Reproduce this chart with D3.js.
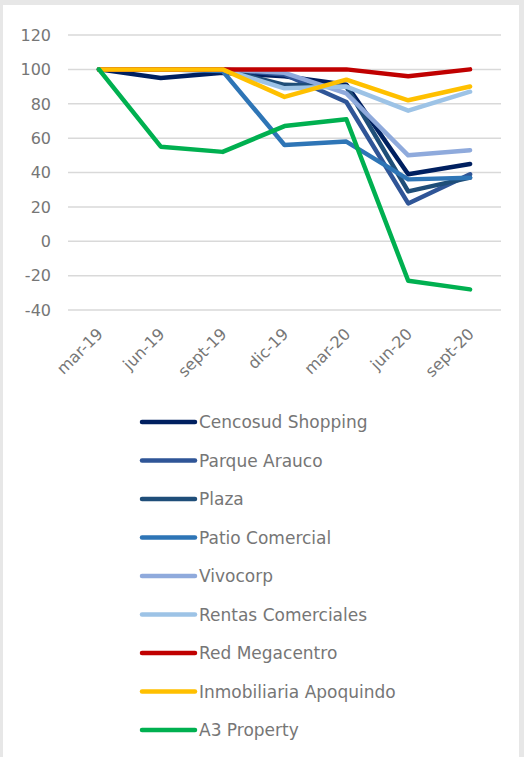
<!DOCTYPE html>
<html>
<head>
<meta charset="utf-8">
<script src="https://cdn.jsdelivr.net/npm/d3@7"></script>
<style>
	body { margin: 0; background: #e7e7e7; }
	#chart { position: absolute; left: 3px; top: 5px; width: 516px; height: 752px; background: white; }
	text { font-family: "DejaVu Sans", Verdana, sans-serif; fill: #767676; }
</style>
</head>
<body>
<div id="chart"></div>
<script>
// Categories (quarters)
const quarters = ["mar-19", "jun-19", "sept-19", "dic-19", "mar-20", "jun-20", "sept-20"];
const yTicks = [-40, -20, 0, 20, 40, 60, 80, 100, 120];

// Series values
const cencosud = [100, 95, 98, 96, 91, 39, 45];
const parqueArauco = [100, 100, 100, 97, 81, 22, 39];
const plaza = [100, 100, 100, 91, 90, 29, 37];
const patioComercial = [100, 100, 99, 56, 58, 36, 37];
const vivocorp = [100, 100, 100, 98, 86, 50, 53];
const rentasComerciales = [100, 100, 100, 89, 90, 76, 87];
const redMegacentro = [100, 100, 100, 100, 100, 96, 100];
const inmobiliariaApoquindo = [100, 100, 100, 84, 94, 82, 90];
const a3Property = [100, 55, 52, 67, 71, -23, -28];

const seriesNames = ["Cencosud Shopping", "Parque Arauco", "Plaza", "Patio Comercial", "Vivocorp",
	"Rentas Comerciales", "Red Megacentro", "Inmobiliaria Apoquindo", "A3 Property"];
const seriesValues = [cencosud, parqueArauco, plaza, patioComercial, vivocorp,
	rentasComerciales, redMegacentro, inmobiliariaApoquindo, a3Property];
const seriesColors = ["#002060", "#2F5597", "#1F4E79", "#2E75B6", "#8FAADC",
	"#9DC3E6", "#C00000", "#FFC000", "#00B050"];

const series = seriesNames.map((name, i) => ({ name: name, values: seriesValues[i], color: seriesColors[i] }));

const svg = d3.select("#chart")
	.append("svg")
	.attr("width", 516)
	.attr("height", 752)
	.append("g")
	.attr("transform", "translate(-3,-5)");  // work in page coordinates

const x = d3.scalePoint()
	.domain(quarters)
	.range([68, 501])
	.padding(0.5);

const y = d3.scaleLinear()
	.domain([-40, 120])
	.range([310, 35]);

// gridlines
svg.selectAll("line.grid")
	.data(yTicks)
	.enter()
	.append("line")
	.attr("class", "grid")
	.attr("x1", 68)
	.attr("x2", 501)
	.attr("y1", d => y(d))
	.attr("y2", d => y(d))
	.attr("stroke", "#d9d9d9")
	.attr("stroke-width", 1.5);

// y tick labels
svg.selectAll("text.ytick")
	.data(yTicks)
	.enter()
	.append("text")
	.attr("class", "ytick")
	.attr("x", 51)
	.attr("y", d => y(d))
	.attr("dy", "0.36em")
	.attr("text-anchor", "end")
	.style("font-size", "16px")
	.text(d => d);

// x tick labels, rotated
svg.selectAll("text.xtick")
	.data(quarters)
	.enter()
	.append("text")
	.attr("class", "xtick")
	.attr("transform", d => `translate(${x(d) + 1},${331}) rotate(-45)`)
	.attr("text-anchor", "end")
	.attr("dy", "0.35em")
	.style("font-size", "16px")
	.text(d => d);

const line = d3.line()
	.x((d, i) => x(quarters[i]))
	.y(d => y(d));

svg.selectAll("path.series")
	.data(series)
	.enter()
	.append("path")
	.attr("class", "series")
	.attr("d", d => line(d.values))
	.attr("fill", "none")
	.attr("stroke", d => d.color)
	.attr("stroke-width", 4.5)
	.attr("stroke-linejoin", "round")
	.attr("stroke-linecap", "round");

// legend
const legend = svg.selectAll("g.legend")
	.data(series)
	.enter()
	.append("g")
	.attr("class", "legend")
	.attr("transform", (d, i) => `translate(0,${422 + i * 38.5})`);

legend.append("line")
	.attr("x1", 142)
	.attr("x2", 195)
	.attr("stroke", d => d.color)
	.attr("stroke-width", 4.5)
	.attr("stroke-linecap", "round");

legend.append("text")
	.attr("x", 199)
	.attr("dy", "0.36em")
	.style("font-size", "17px")
	.text(d => d.name);
</script>
</body>
</html>
